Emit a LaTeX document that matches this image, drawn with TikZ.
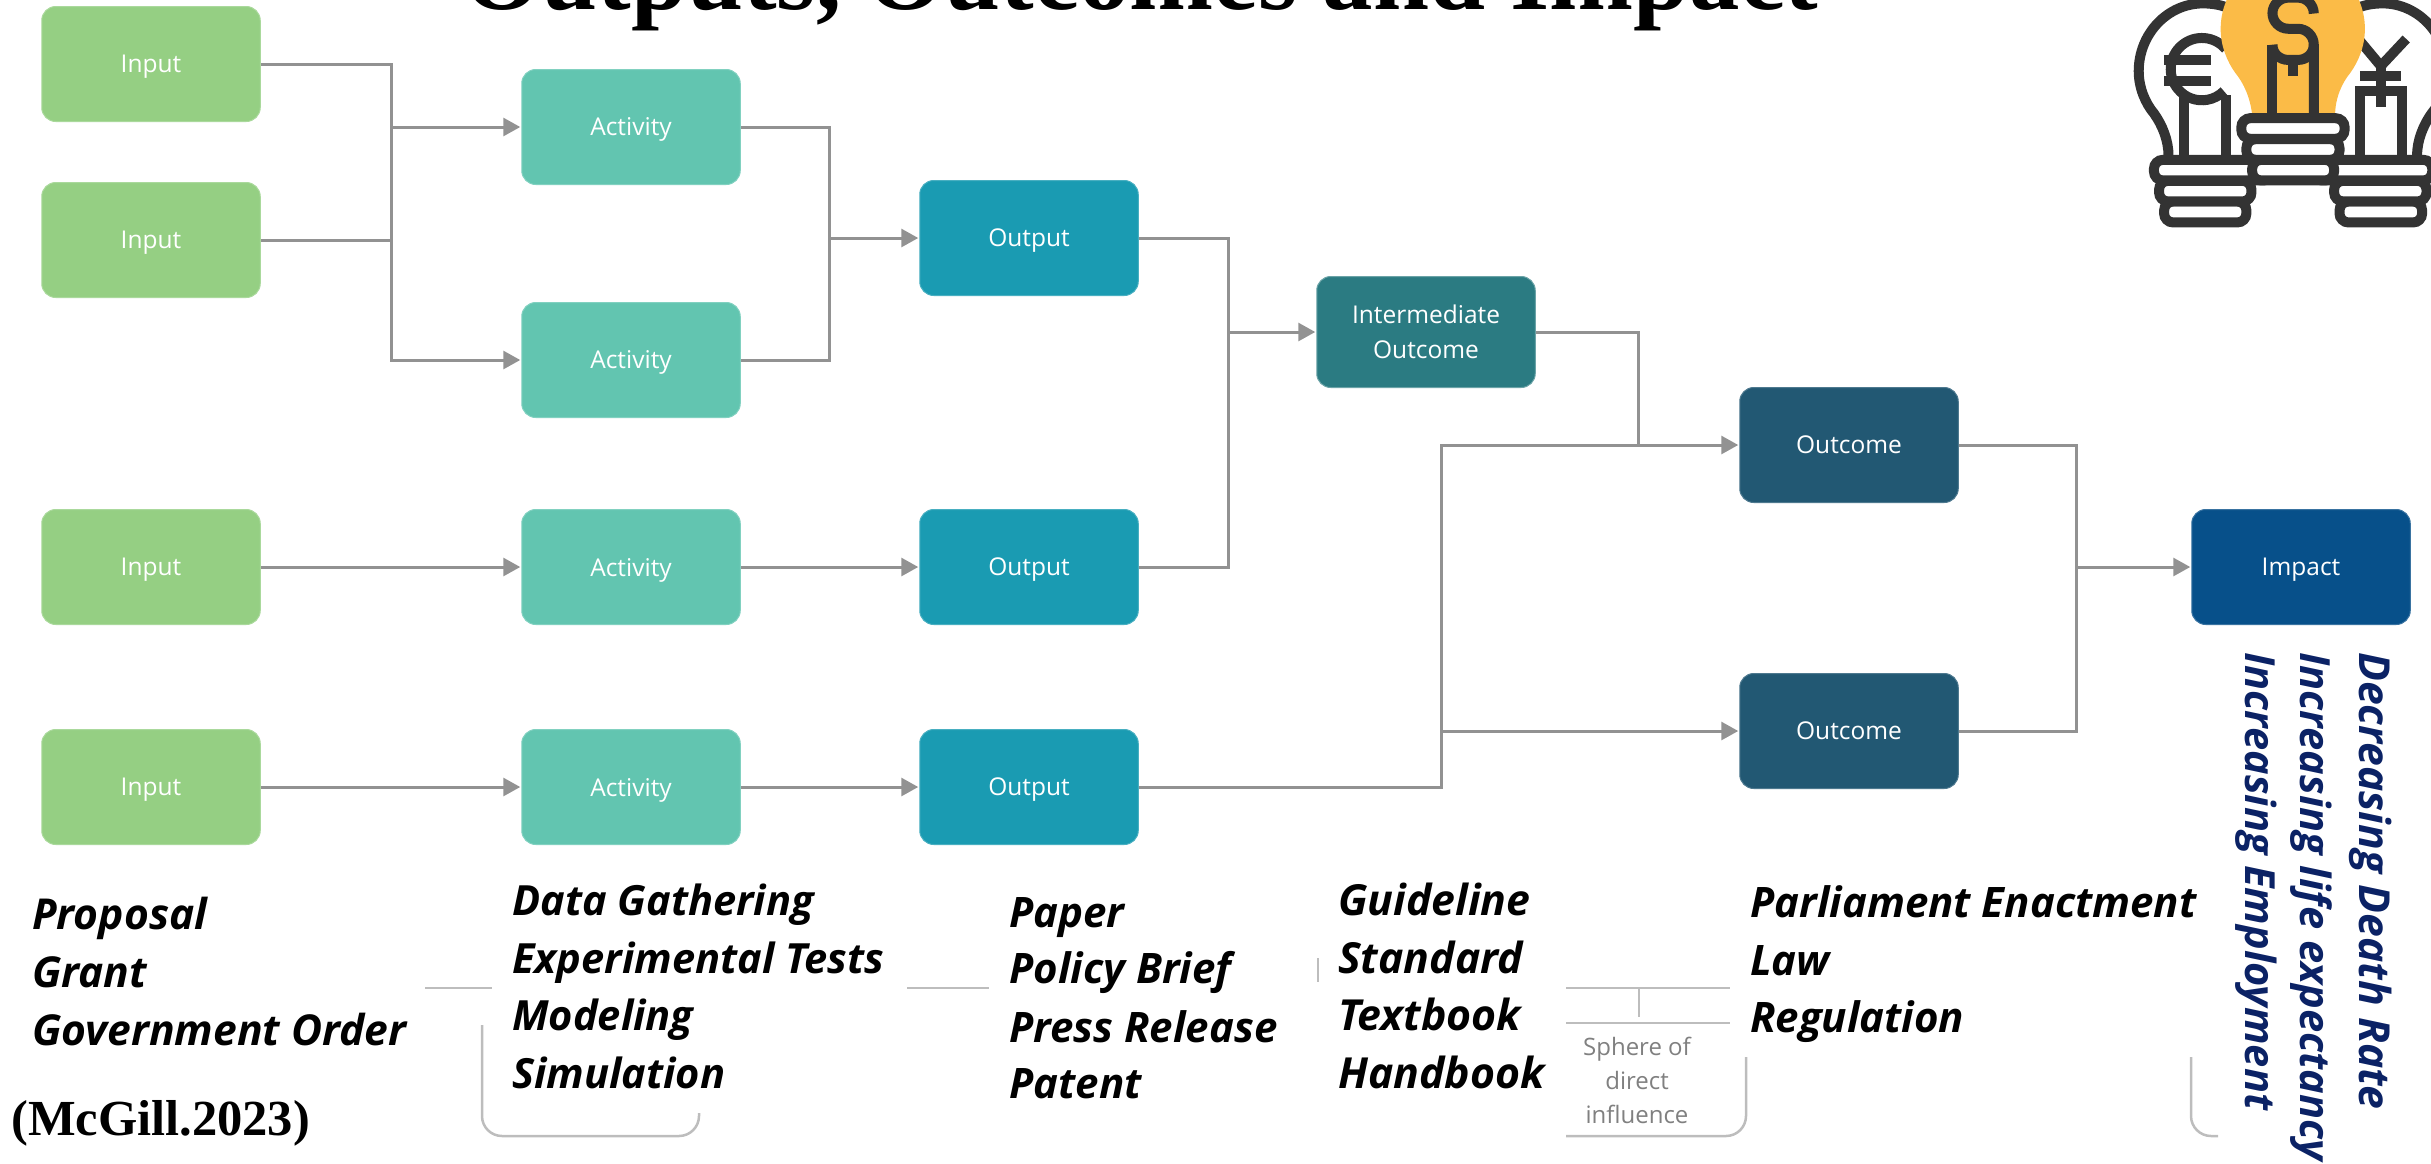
\documentclass[tikz,border=0pt]{standalone}
\usepackage{fontspec}
\setmainfont{Open Sans}
\newfontfamily\serifhead{Liberation Serif}
\usetikzlibrary{arrows.meta}

\definecolor{inputcol}{HTML}{95CF83}
\definecolor{activitycol}{HTML}{62C5B0}
\definecolor{outputcol}{HTML}{1A9BB2}
\definecolor{midcol}{HTML}{2B7B82}
\definecolor{outcomecol}{HTML}{225873}
\definecolor{impactcol}{HTML}{07508A}
\definecolor{wirecol}{HTML}{929292}
\definecolor{faintcol}{HTML}{BDBDBD}
\definecolor{iconcol}{HTML}{333333}
\definecolor{bulbcol}{HTML}{FBBB47}
\definecolor{navycol}{HTML}{0B2265}

\tikzset{box/.style={rounded corners=14pt, minimum width=218.5pt, minimum height=115pt, inner sep=0pt,
    align=center, text=white, text depth=0pt, font=\fontsize{24.5}{35}\selectfont, line width=1pt},
  inputbox/.style={box, fill=inputcol, draw=inputcol!80!white},
  activitybox/.style={box, fill=activitycol, draw=activitycol!80!white},
  outputbox/.style={box, fill=outputcol, draw=outputcol!80!white},
  midbox/.style={box, fill=midcol, draw=midcol!70!white, text depth={}, minimum height=111pt},
  outcomebox/.style={box, fill=outcomecol, draw=outcomecol!80!white},
  impactbox/.style={box, fill=impactcol, draw=impactcol!80!white},
  wire/.style={draw=wirecol, line width=3pt},
  wirearrow/.style={wire, -{Triangle[length=17pt,width=18pt]}, shorten >=1pt},
  faint/.style={draw=faintcol, line width=2.5pt},
  listline/.style={anchor=base west, inner sep=0pt, text=black, font=\fontsize{#1}{#1}\selectfont\bfseries\itshape},
  sideline/.style={anchor=base west, inner sep=0pt, rotate=-90, text=navycol, font=\fontsize{#1}{#1}\selectfont\bfseries\itshape},
  coin/.style={draw=iconcol, fill=white, line width=10pt, rounded corners=9pt},
  iconline/.style={draw=iconcol, line width=10pt}}

\begin{document}
\begin{tikzpicture}[x=1pt, y=-1pt]
  \useasboundingbox (0,0) rectangle (2431,1163);

  \node [anchor=base west, inner sep=0pt, font=\fontsize{100.8}{101}\selectfont\serifhead\bfseries] (title) at (463,9) {Outputs, Outcomes and Impact};

  \node [inputbox] (in1) at (151,64) {Input};
  \node [inputbox] (in2) at (151,240) {Input};
  \node [inputbox] (in3) at (151,567) {Input};
  \node [inputbox] (in4) at (151,787) {Input};

  \node [activitybox] (act1) at (631,127) {Activity};
  \node [activitybox] (act2) at (631,360) {Activity};
  \node [activitybox] (act3) at (631,567) {Activity};
  \node [activitybox] (act4) at (631,787) {Activity};

  \node [outputbox] (out1) at (1029,238) {Output};
  \node [outputbox] (out2) at (1029,567) {Output};
  \node [outputbox] (out3) at (1029,787) {Output};

  \node [midbox] (mid) at (1426,332) {Intermediate\\Outcome};

  \node [outcomebox] (oc1) at (1849,445) {Outcome};
  \node [outcomebox] (oc2) at (1849,731) {Outcome};

  \node [impactbox] (imp) at (2301,567) {Impact};

  \coordinate (j1) at (391,127);
  \coordinate (j2) at (829,238);
  \coordinate (j3) at (1228,332);
  \coordinate (j4) at (1638,445);
  \coordinate (j5) at (1441,731);
  \coordinate (j6) at (2076,567);

  \draw [wire] (in1.east) -| (j1);
  \draw [wire] (in2.east) -- (in2.east -| j1);
  \draw [wirearrow] (j1) -- (act1.west);
  \draw [wirearrow] (j1) |- (act2.west);
  \draw [wirearrow] (in3) -- (act3);
  \draw [wirearrow] (in4) -- (act4);

  \draw [wire] (act1.east) -| (j2);
  \draw [wire] (act2.east) -| (j2);
  \draw [wirearrow] (j2) -- (out1.west);
  \draw [wirearrow] (act3) -- (out2);
  \draw [wirearrow] (act4) -- (out3);

  \draw [wire] (out1.east) -| (j3);
  \draw [wire] (out2.east) -| (j3);
  \draw [wirearrow] (j3) -- (mid.west);

  \draw [wire] (mid.east) -| (j4);
  \draw [wire] (out3.east) -| (j5);
  \draw [wire] (j5) |- (j4);
  \draw [wirearrow] (j4) -- (oc1.west);
  \draw [wirearrow] (j5) -- (oc2.west);

  \draw [wire] (oc1.east) -| (j6);
  \draw [wire] (oc2.east) -| (j6);
  \draw [wirearrow] (j6) -- (imp.west);

  % lists under the boxes
  \node [listline=42.6] (l1) at (32,929) {Proposal};
  \node [listline=42.6] (l2) at (32,987) {Grant};
  \node [listline=42.6] (l3) at (32,1045) {Government Order};
  \node [listline=41.6] (l4) at (512,915) {Data Gathering};
  \node [listline=41.6] (l5) at (512,973) {Experimental Tests};
  \node [listline=41.6] (l6) at (512,1030) {Modeling};
  \node [listline=41.6] (l7) at (512,1088) {Simulation};
  \node [listline=42] (l8) at (1009,927) {Paper};
  \node [listline=42] (l9) at (1009,983) {Policy Brief};
  \node [listline=42] (l10) at (1009,1042) {Press Release};
  \node [listline=42] (l11) at (1009,1098) {Patent};
  \node [listline=42.8] (l12) at (1338,915) {Guideline};
  \node [listline=42.8] (l13) at (1338,973) {Standard};
  \node [listline=42.8] (l14) at (1338,1030) {Textbook};
  \node [listline=42.8] (l15) at (1338,1088) {Handbook};
  \node [listline=42] (l16) at (1750,917) {Parliament Enactment};
  \node [listline=42] (l17) at (1750,975) {Law};
  \node [listline=42] (l18) at (1750,1032) {Regulation};

  \node [sideline=42.7] (s1) at (2359,652) {Decreasing Death Rate};
  \node [sideline=41.6] (s2) at (2300,652) {Increasing life expectancy};
  \node [sideline=41.5] (s3) at (2245,652) {Increasing Employment};

  \node [anchor=base west, inner sep=0pt, font=\fontsize{50.5}{51}\selectfont\serifhead\bfseries] (cite) at (11,1135) {(McGill.2023)};

  % leftovers of the brace lines
  \draw [faint] (425,988) -- (492,988);
  \draw [faint] (907,988) -- (989,988);
  \draw [faint] (1318,958) -- (1318,982);
  \draw [faint] (1566,988) -- (1730,988);
  \draw [faint] (1566,1023) -- (1730,1023);
  \draw [faint] (1639,988) -- (1639,1017);
  \draw [faint] (482,1025) -- (482,1116) arc (180:90:20) -- (679,1136) arc (90:0:20) -- (699,1113);
  \draw [faint] (1566,1136) -- (1726,1136) arc (90:0:20) -- (1746,1057);
  \draw [faint] (2191,1057) -- (2191,1116) arc (180:90:20) -- (2218,1136);
  \node [inner sep=0pt, align=center, text=gray, font=\fontsize{24}{34}\selectfont] (sphere) at (1637,1080) {Sphere of\\direct\\influence};

  % icon
  \begin{scope}[shift={(1900,0)}, scale=0.3386]
    \draw [iconline] (965,22) .. controls (945,14) and (920,10) .. (895,10) .. controls (790,10) and (705,100) .. (705,210) .. controls (705,260) and (725,305) .. (750,335) .. controls (775,370) and (793,415) .. (793,460);
    \draw [iconline] (1355,22) .. controls (1375,14) and (1400,10) .. (1425,10) .. controls (1530,10) and (1615,100) .. (1615,210) .. controls (1615,260) and (1595,305) .. (1570,335) .. controls (1545,370) and (1527,415) .. (1527,460);

    \draw [iconline] (962,145) arc (-40:-315:92);
    \draw [iconline] (840,470) -- (840,285);
    \draw [iconline] (962,470) -- (962,280);
    \draw [iconline] (780,178) -- (917,178);
    \draw [iconline] (780,240) -- (917,240);

    \draw [iconline] (1345,105) -- (1420,195) -- (1495,115);
    \draw [iconline] (1358,225) -- (1480,225);
    \draw [iconline] (1420,195) -- (1420,317);
    \draw [iconline] (1358,470) -- (1358,270) -- (1482,270) -- (1482,470);

    \fill [bulbcol] (1040,340) .. controls (1035,290) and (1015,245) .. (990,215) .. controls (965,180) and (947,135) .. (947,85) .. controls (947,-30) and (1040,-130) .. (1160,-130) .. controls (1280,-130) and (1373,-30) .. (1373,85) .. controls (1373,135) and (1355,180) .. (1330,215) .. controls (1305,245) and (1285,290) .. (1285,340) -- cycle;

    \draw [iconline] (1222,40) .. controls (1222,14) and (1201,-7) .. (1175,-7) -- (1147,-7) .. controls (1121,-7) and (1100,14) .. (1100,39) .. controls (1100,64) and (1121,85) .. (1147,85) -- (1175,85) .. controls (1201,85) and (1222,106) .. (1222,132) -- (1222,345);
    \draw [iconline] (1100,132) .. controls (1100,158) and (1121,177) .. (1147,177) -- (1175,177) .. controls (1201,177) and (1222,158) .. (1222,132);
    \draw [iconline] (1100,132) -- (1100,345);
    \draw [iconline] (1160,180) -- (1160,225);

    \draw [coin] (780,595) rectangle (1023,657);
    \draw [coin] (765,534) rectangle (1038,595);
    \draw [coin] (750,472) rectangle (1100,533);
    \draw [coin] (1298,595) rectangle (1542,657);
    \draw [coin] (1282,534) rectangle (1555,595);
    \draw [coin] (1220,472) rectangle (1572,533);
    \draw [coin] (1040,472) rectangle (1282,533);
    \draw [coin] (1023,411) rectangle (1298,472);
    \draw [coin] (1008,349) rectangle (1313,410);
  \end{scope}
\end{tikzpicture}
\end{document}
